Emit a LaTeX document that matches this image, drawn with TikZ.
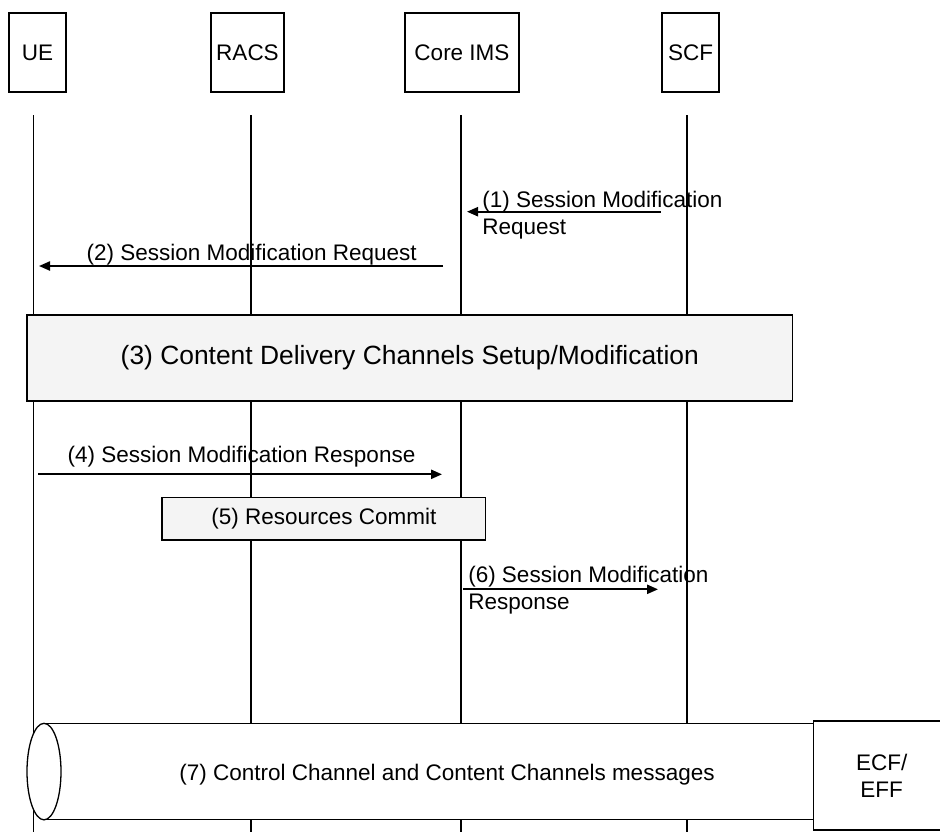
\documentclass[tikz,border=0pt]{standalone}
\usepackage{fontspec}
\setmainfont{Liberation Sans}
\usetikzlibrary{arrows.meta}
\definecolor{boxgray}{HTML}{F4F4F4}
\begin{document}
\begin{tikzpicture}[x=0.5pt,y=-0.5pt,
  line width=0.65pt,
  every node/.style={font=\fontsize{11.25pt}{13.5pt}\selectfont},
  hdr/.style={draw, fill=white, minimum height=39.5pt, inner sep=0pt},
  life/.style={line width=0.65pt},
  msg/.style={line width=0.85pt, -{Triangle[length=5.5pt,width=4.6pt]}},
  procbox/.style={draw, line width=0.8pt, fill=boxgray, inner sep=0pt},
  lbl/.style={inner sep=0pt},
]
\useasboundingbox (0,0) rectangle (940,832);
\clip (0,0) rectangle (940,832);

% headers
\node[hdr, minimum width=28.5pt] (ue) at (37.5,52.5) {UE};
\node[hdr, minimum width=36.5pt] (racs) at (247.5,52.5) {RACS};
\node[hdr, minimum width=57pt] (ims) at (462,52.5) {Core IMS};
\node[hdr, minimum width=28.5pt] (scf) at (690.5,52.5) {SCF};

% lifelines
\coordinate (ueT) at (33.5,115);   \coordinate (ueB) at (33.5,832);
\coordinate (racsT) at (251,115);  \coordinate (racsB) at (251,832);
\coordinate (imsT) at (461,115);   \coordinate (imsB) at (461,832);
\coordinate (scfT) at (687,115);   \coordinate (scfB) at (687,832);
\draw[life] (ueT) -- (ueB);
\draw[life] (racsT) -- (racsB);
\draw[life] (imsT) -- (imsB);
\draw[life] (scfT) -- (scfB);

% message end points
\coordinate (a1s) at (660.7,211.7); \coordinate (a1e) at (467,211.7);
\coordinate (a2s) at (443,266);     \coordinate (a2e) at (39,266);
\coordinate (a4s) at (38,474.3);    \coordinate (a4e) at (442,474.3);
\coordinate (a6s) at (463,589.3);   \coordinate (a6e) at (658,589.3);

\draw[msg] (a1s) -- (a1e);
\draw[msg] (a2s) -- (a2e);
\draw[msg] (a4s) -- (a4e);
\draw[msg] (a6s) -- (a6e);

% labels
\node[lbl, anchor=west, align=left] (l1) at (481.7,215.5) {(1) Session Modification\\Request};
\node[lbl, anchor=base] (l2) at (251.7,260.7) {(2) Session Modification Request};
\node[lbl, anchor=base] (l4) at (241.5,462.5) {(4) Session Modification Response};
\node[lbl, anchor=west, align=left] (l6) at (467.6,590) {(6) Session Modification\\Response};

% process boxes
\node[procbox, minimum width=382.8pt, minimum height=42.85pt,
      font=\fontsize{13.2pt}{15pt}\selectfont] (p3) at (409.8,357.9)
      {(3) Content Delivery Channels Setup/Modification};
\node[procbox, minimum width=161.8pt, minimum height=21.35pt] (p5) at (323.8,518.7)
      {(5) Resources Commit};

% cylinder (7)
\fill[white] (44,723.3) rectangle (813.5,819.8);
\draw (44,723.3) -- (813.5,723.3);
\draw (44,819.8) -- (813.5,819.8);
\draw[fill=white] (44,771.55) ellipse [x radius=8.5pt, y radius=24.125pt];
\node[lbl] (c7) at (447,775) {(7) Control Channel and Content Channels messages};

\node[draw, fill=white, line width=0.8pt, minimum width=68.2pt, minimum height=54.65pt,
      align=center, inner sep=0pt] (ecf) at (881.7,775.35) {ECF/\\EFF};
\end{tikzpicture}
\end{document}
